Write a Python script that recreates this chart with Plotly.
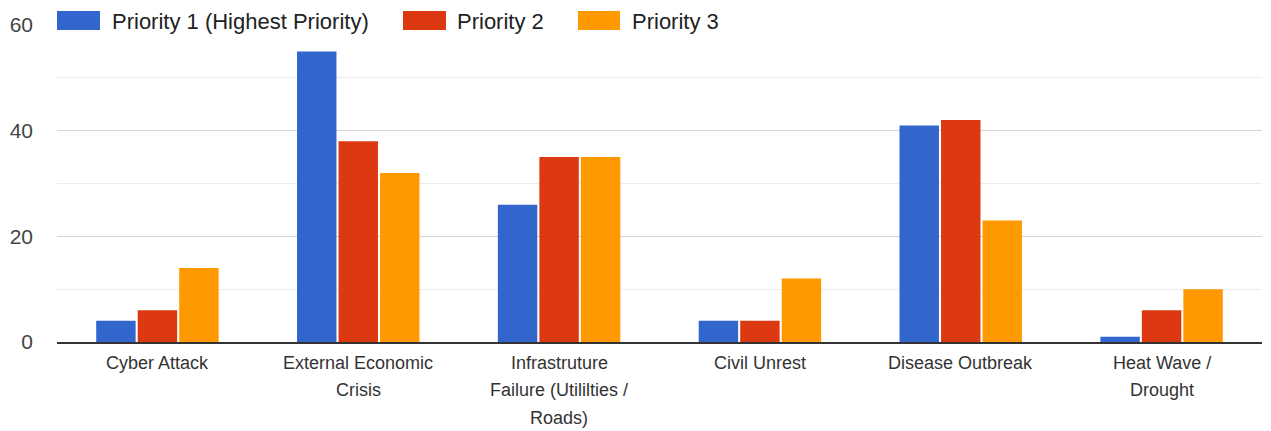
import plotly.graph_objects as go

categories = ["Cyber Attack", "External Economic<br>Crisis",
              "Infrastruture<br>Failure (Utililties /<br>Roads)", "Civil Unrest",
              "Disease Outbreak", "Heat Wave /<br>Drought"]
series_names = ["Priority 1 (Highest Priority)", "Priority 2", "Priority 3"]
priority1 = [4, 55, 26, 4, 41, 1]
priority2 = [6, 38, 35, 4, 42, 6]
priority3 = [14, 32, 35, 12, 23, 10]
colors = ["#3366cc", "#dc3912", "#ff9900"]
y_ticks = [0, 20, 40, 60]

OFF = 8  # browser body margin
W, H = 1263, 423
ML, MR, MT, MB = 57 - OFF, 9, 25 - OFF, 89
font_family = "Liberation Sans, Arial, sans-serif"

fig = go.Figure()
for name, vals, c in zip(series_names, [priority1, priority2, priority3], colors):
    fig.add_trace(go.Bar(x=categories, y=vals, name=name, marker_color=c,
                         marker_line_width=0, showlegend=False))

pw = W - ML - MR
ph = H - MT - MB
def px2x(px):
    return (px - OFF - ML) / pw
def px2y(py):
    return 1 - (py - OFF - MT) / ph

# custom legend with large swatches like the reference (positions in page px)
legend_items = [(57, 100, 110), (403, 446, 455), (578, 620, 630)]
shapes = []
annotations = []
for (x0, x1, tx), name, c in zip(legend_items, series_names, colors):
    shapes.append(dict(type="rect", xref="paper", yref="paper",
                       x0=px2x(x0), x1=px2x(x1), y0=px2y(30), y1=px2y(11),
                       fillcolor=c, line=dict(width=0), layer="above"))
    annotations.append(dict(xref="paper", yref="paper", x=px2x(tx), y=px2y(21),
                            xanchor="left", yanchor="middle", showarrow=False,
                            text=name, font=dict(size=22, color="#222222", family=font_family)))

# category labels, one line per annotation for the wider line spacing
for cat in categories:
    for i, line in enumerate(cat.split("<br>")):
        annotations.append(dict(xref="x", yref="paper", x=cat, y=0, yanchor="middle",
                                yshift=-(20.5 + 27.5 * i), showarrow=False, text=line,
                                font=dict(size=18, color="#333333", family=font_family)))

fig.update_layout(
    width=W, height=H,
    margin=dict(l=ML, r=MR, t=MT, b=MB, autoexpand=False),
    paper_bgcolor="white", plot_bgcolor="white",
    barmode="group", bargap=0.38, bargroupgap=0.05,
    font=dict(family=font_family, size=18, color="#444444"),
    shapes=shapes, annotations=annotations,
    xaxis=dict(showgrid=False, showline=True, linecolor="#333333", linewidth=2,
               ticks="", showticklabels=False, automargin=False),
    yaxis=dict(range=[0, 60], tickvals=y_ticks, showgrid=True, gridcolor="#d6d6d6",
               zeroline=False, showline=False, ticks="", ticklabelstandoff=23,
               automargin=False,
               tickfont=dict(size=21, color="#444444"),
               minor=dict(dtick=10, showgrid=True, gridcolor="#ececec")),
)
fig.write_html("out.html")
